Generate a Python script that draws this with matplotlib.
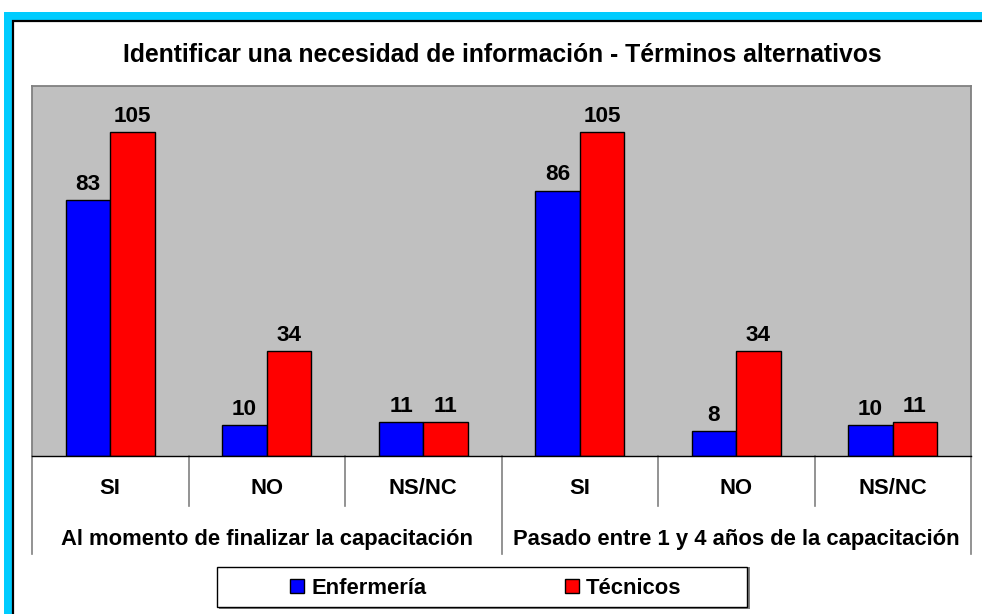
import matplotlib
matplotlib.use("Agg")
import matplotlib.pyplot as plt
from matplotlib.patches import Rectangle, Patch
from matplotlib.transforms import blended_transform_factory
import numpy as np

# datos
categorias = ["SI", "NO", "NS/NC", "SI", "NO", "NS/NC"]
grupos = ["Al momento de finalizar la capacitación",
          "Pasado entre 1 y 4 años de la capacitación"]
enfermeria = [83, 10, 11, 86, 8, 10]
tecnicos = [105, 34, 11, 105, 34, 11]
series = ["Enfermería", "Técnicos"]
titulo = "Identificar una necesidad de información - Términos alternativos"

plt.rcParams['font.family'] = ['Liberation Sans', 'DejaVu Sans']
plt.rcParams['font.weight'] = 'bold'
fs = 15.8

W, H = 982, 614
fig = plt.figure(figsize=(W / 100, H / 100), dpi=100)
fig.patch.set_facecolor("white")

def fx(px):
    return px / W

def fy(py):
    return 1 - py / H

# marco cian + borde negro
fig.patches.append(Rectangle((fx(4), 0), 1, fy(12), transform=fig.transFigure,
                             facecolor="#00CCFF", edgecolor="none", zorder=-2))
fig.patches.append(Rectangle((fx(13), -0.1), 1.2, fy(21) + 0.1, transform=fig.transFigure,
                             facecolor="white", edgecolor="black", linewidth=1.6, zorder=-1))

left, right, top, bottom = 32, 971, 86, 456
ax = fig.add_axes([fx(left), fy(bottom), fx(right - left), (bottom - top) / H])
ax.set_facecolor("#C0C0C0")
ax.set_zorder(1)

x = np.arange(len(categorias))
bw = 0.284
b1 = ax.bar(x - bw / 2, enfermeria, bw, color="#0000FF", edgecolor="black", linewidth=1.0, label=series[0])
b2 = ax.bar(x + bw / 2, tecnicos, bw, color="#FF0000", edgecolor="black", linewidth=1.0, label=series[1])

for bars, vals in [(b1, enfermeria), (b2, tecnicos)]:
    for r, v in zip(bars, vals):
        ax.annotate(str(v), (r.get_x() + r.get_width() / 2, r.get_height()),
                    xytext=(0, 7.6), textcoords="offset points",
                    ha="center", va="baseline", fontsize=fs + 0.4, fontweight="bold")

ax.set_xlim(-0.5, len(categorias) - 0.5)
ax.set_ylim(0, 120)
ax.set_xticks([])
ax.set_yticks([])
for s in ["left", "top", "right"]:
    ax.spines[s].set_color("#808080")
    ax.spines[s].set_linewidth(1.3)
ax.spines["bottom"].set_color("black")
ax.spines["bottom"].set_linewidth(1.0)

trans = blended_transform_factory(ax.transData, ax.transAxes)
ph = bottom - top
for i in range(len(categorias) + 1):
    xs = i - 0.5
    largo = 554 if i % 3 == 0 else 506
    ax.plot([xs, xs], [0, -(largo - bottom) / ph], transform=trans, color="#808080",
            linewidth=1.2, clip_on=False)

for i, c in enumerate(categorias):
    ax.text(i, -(489 - bottom) / ph, c, transform=trans, ha="center", va="center",
            fontsize=fs, fontweight="bold")
for g, nombre in enumerate(grupos):
    ax.text(g * 3 + 1, -(539 - bottom) / ph, nombre, transform=trans, ha="center",
            va="center", fontsize=fs, fontweight="bold")

fig.text(fx(502), fy(55), titulo, ha="center", va="center", fontsize=17.8, fontweight="bold")

# leyenda
fig.patches.append(Rectangle((fx(219), fy(609)), fx(531), (609 - 567) / H, transform=fig.transFigure,
                             facecolor="#808080", edgecolor="none", zorder=2))
fig.patches.append(Rectangle((fx(217), fy(607)), fx(530), (607 - 567) / H, transform=fig.transFigure,
                             facecolor="white", edgecolor="black", linewidth=1.0, zorder=3))
handles = [Patch(facecolor="#0000FF", edgecolor="black", linewidth=1.0),
           Patch(facecolor="#FF0000", edgecolor="black", linewidth=1.0)]
leg = fig.legend(handles, series, loc="center", bbox_to_anchor=(fx(486), fy(588)),
                 ncol=2, frameon=False, prop={"size": fs, "weight": "bold"},
                 handlelength=0.64, handleheight=0.64, handletextpad=0.33,
                 columnspacing=6.3, borderaxespad=0)
leg.set_zorder(5)

fig.savefig("out.png", dpi=100)
